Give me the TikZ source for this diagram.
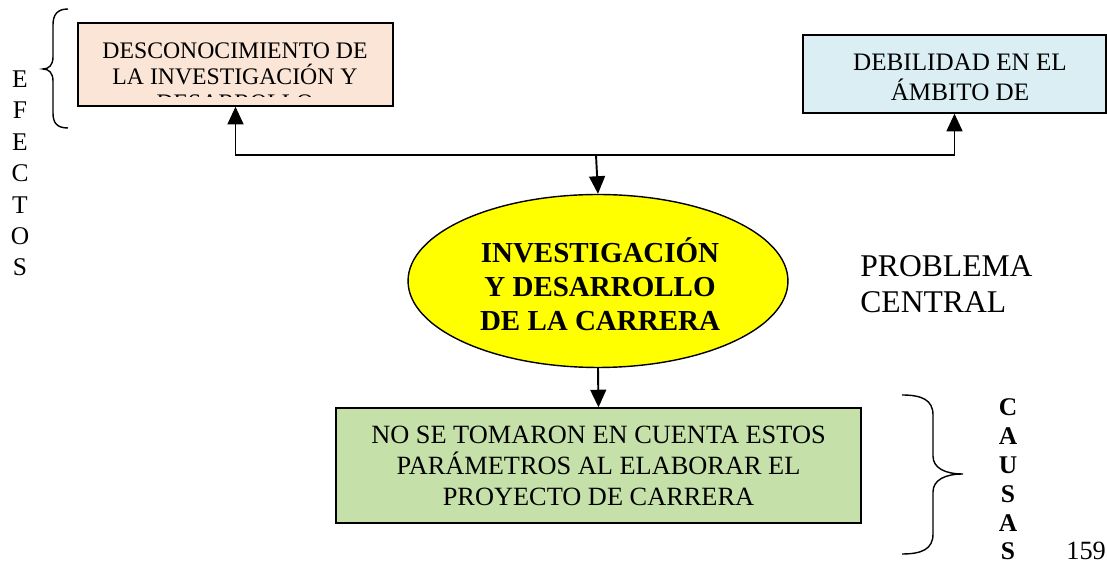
\documentclass[tikz,border=0pt]{standalone}
\usepackage{fontspec}
\setmainfont{Liberation Serif}
\usetikzlibrary{shapes.geometric,arrows.meta}
\definecolor{peach}{HTML}{FBE5D6}
\definecolor{paleblue}{HTML}{DAEEF3}
\definecolor{palegreen}{HTML}{C5E0A8}
\definecolor{sunyellow}{HTML}{FFFF00}
\begin{document}
\begin{tikzpicture}[x=0.02cm,y=-0.02cm]
        \tikzstyle{effect}=[rectangle,draw=black,line width=0.8pt,inner sep=0pt]
        \tikzstyle{label}=[inner sep=0pt,align=center]
        \tikzstyle{edge}=[draw,line width=1.1pt,-{Triangle[length=10pt,width=9pt]}]
        \tikzstyle{brace}=[draw,line width=0.8pt]
        \useasboundingbox (0,0) rectangle (1107,570);
        \begin{scope}
           \node [effect,fill=peach,minimum width=6.3cm,minimum height=1.66cm] (e1) at (235.5,64.5) {};
           \node [effect,fill=paleblue,minimum width=6.06cm,minimum height=1.56cm] (e2) at (954.5,74) {};
           \node [effect,ellipse,fill=sunyellow,minimum width=7.6cm,minimum height=3.46cm] (e0) at (598,281) {};
           \node [label,anchor=base,font=\bfseries\fontsize{16.5}{19.4}\selectfont] (t0) at (600,331) {INVESTIGACIÓN\\Y DESARROLLO\\DE LA CARRERA};
           \node [effect,fill=palegreen,minimum width=10.5cm,minimum height=2.3cm,font=\fontsize{15}{17.6}\selectfont,align=center] (c1) at (598.5,465.5) {NO SE TOMARON EN CUENTA ESTOS\\PARÁMETROS AL ELABORAR EL\\PROYECTO DE CARRERA};
           \begin{scope}
              \clip (78,23) rectangle (393,97);
              \node [label,anchor=base,font=\fontsize{13.5}{15}\selectfont] (t1) at (235,111) {DESCONOCIMIENTO DE\\LA INVESTIGACIÓN Y\\DESARROLLO};
           \end{scope}
           \node [label,anchor=base,font=\fontsize{14.3}{17.6}\selectfont] (t2) at (960,101) {DEBILIDAD EN EL\\ÁMBITO DE};
           \node [label,anchor=base,font=\fontsize{14.5}{17.9}\selectfont] (efectos) at (20,276) {E\\F\\E\\C\\T\\O\\S};
           \node [label,anchor=base,font=\bfseries\fontsize{14.5}{16.4}\selectfont] (causas) at (1008,560) {C\\A\\U\\S\\A\\S};
           \node [label,anchor=base west,align=left,font=\fontsize{18}{20.5}\selectfont] (central) at (860,313) {PROBLEMA\\CENTRAL};
           \node [label,anchor=base west,font=\fontsize{15}{18}\selectfont] (page) at (1066,560) {159};
           \coordinate (split) at (596,155);
           \path[edge] (split) -- (e0.north);
           \path[edge] (split) -| (e1.south);
           \path[edge] (split) -| (e2.south);
           \path[edge] (e0.south) -- (c1.north);
           \path[brace] (68,9) .. controls (57,9) and (53,15) .. (53,25) -- (53,57) .. controls (53,65) and (49,69) .. (43,69) .. controls (49,69) and (53,73) .. (53,81) -- (53,113) .. controls (53,123) and (57,128) .. (68,128);
           \path[brace] (902,395) .. controls (922,395) and (933,400) .. (933,415) -- (933,456) .. controls (933,468) and (945,474) .. (963,474) .. controls (945,474) and (933,480) .. (933,492) -- (933,534) .. controls (933,549) and (922,554) .. (902,554);
        \end{scope}
\end{tikzpicture}
\end{document}
